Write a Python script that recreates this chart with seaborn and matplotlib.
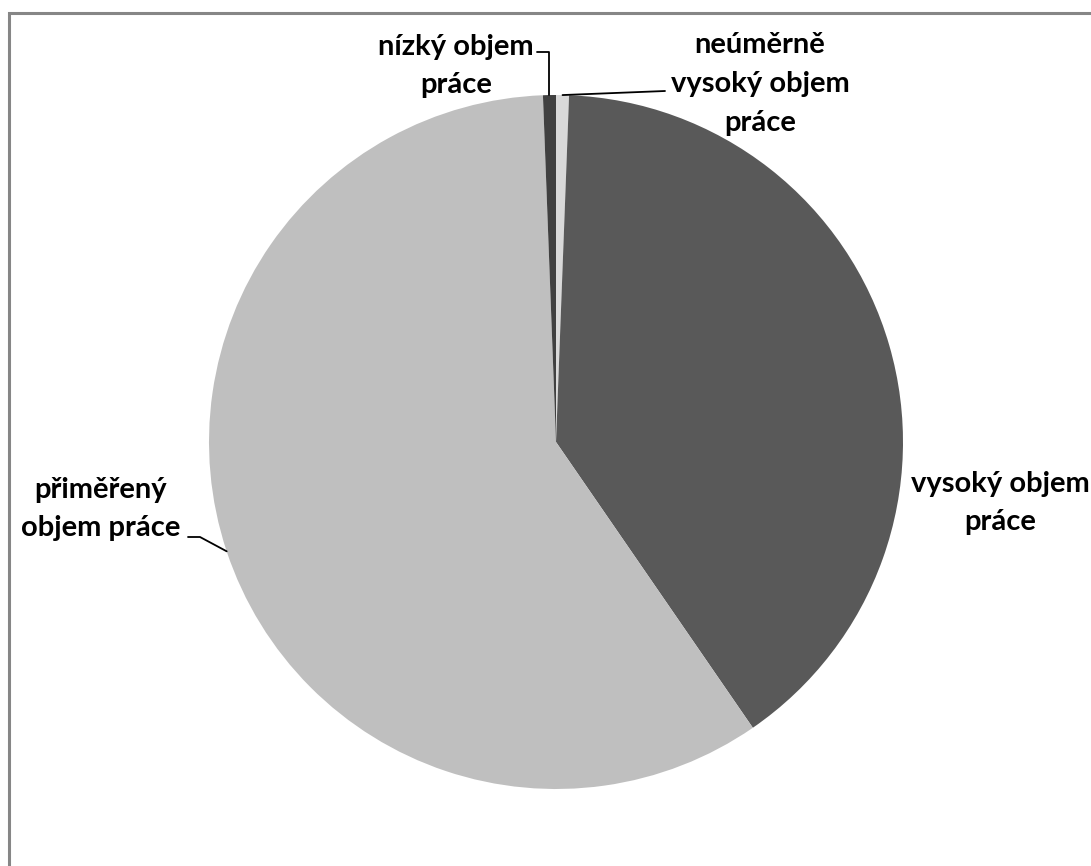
import numpy as np
import matplotlib
matplotlib.use("Agg")
import matplotlib.pyplot as plt
import seaborn as sns
from matplotlib.patches import Rectangle

sns.set_theme(style="white")
plt.rcParams['font.family'] = ['Lato', 'DejaVu Sans']

# Data (percent shares, clockwise from top)
categories = ["neúměrně\nvysoký objem\npráce", "vysoký objem\npráce",
              "přiměřený\nobjem práce", "nízký objem\npráce"]
shares = [0.6, 39.8, 59.0, 0.6]
colors = ["#d9d9d9", "#595959", "#bfbfbf", "#404040"]

W, H = 1091, 866
fig = plt.figure(figsize=(W / 100, H / 100), dpi=100)
ax = fig.add_axes([0, 0, 1, 1])

cx, cy, R = 556, H - 442, 347
wedges, _ = ax.pie(shares, colors=colors, startangle=90, counterclock=False,
                   center=(cx, cy), radius=R, frame=True,
                   wedgeprops=dict(linewidth=0))
ax.set_xlim(0, W)
ax.set_ylim(0, H)
ax.set_aspect('equal')
ax.axis('off')

# frame (chart area border, running off the right and bottom of the image)
fig.patches.append(Rectangle((8.5 / W, -0.2), 1.2, 0.2 + (H - 12.5) / H,
                             transform=fig.transFigure, fill=False,
                             edgecolor="#868686", linewidth=2.2))

def edge_point(w, frac=0.5):
    a = np.deg2rad(w.theta1 + (w.theta2 - w.theta1) * frac)
    return cx + R * np.cos(a), cy + R * np.sin(a)

fs = 21
tk = dict(fontsize=fs, fontweight='bold', ha='center', va='center',
          color='black', linespacing=1.6)

# label texts
ax.text(456, H - 66, categories[3], **tk)
ax.text(760, H - 84, categories[0], **tk)
ax.text(1000, H - 503, categories[1], **tk)
ax.text(101, H - 509, categories[2], **tk)

# leader lines
px, py = edge_point(wedges[3])
ax.plot([537, px, px], [H - 52, H - 52, py], color='black', lw=1.3)
px, py = edge_point(wedges[0])
ax.plot([px, 665], [py, H - 91], color='black', lw=1.3)
px, py = edge_point(wedges[2], 0.5)
ax.plot([188, 200, px], [H - 537, H - 537, py], color='black', lw=1.3)

fig.savefig("out.png", dpi=100)
